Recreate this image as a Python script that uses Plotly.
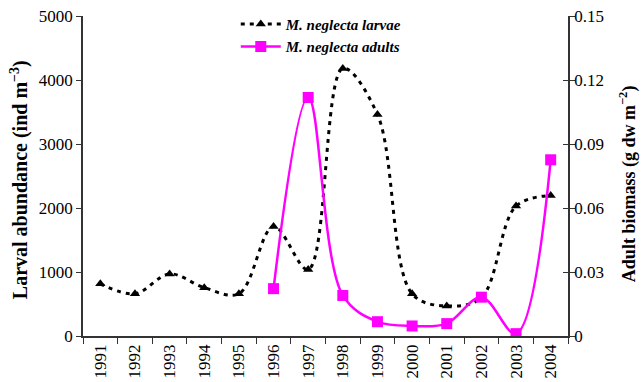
import plotly.graph_objects as go

years = ["1991", "1992", "1993", "1994", "1995", "1996", "1997",
         "1998", "1999", "2000", "2001", "2002", "2003", "2004"]
larvae = [815, 660, 970, 755, 660, 1710, 1040, 4180, 3460, 660, 470, 600, 2030, 2195]
adult_years = ["1996", "1997", "1998", "1999", "2000", "2001", "2002", "2003", "2004"]
adults = [0.0222, 0.1118, 0.0190, 0.0067, 0.0047, 0.0058, 0.0182, 0.0011, 0.0826]

FONT = "Liberation Serif, Times New Roman, serif"
AX = "#333333"

fig = go.Figure()
fig.add_trace(go.Scatter(
    x=years, y=larvae, name="M. neglecta larvae", mode="lines+markers",
    line=dict(color="black", width=3, dash="4px,5px", shape="spline", smoothing=1.0),
    marker=dict(symbol="triangle-up", size=9, color="black"),
    yaxis="y"))
fig.add_trace(go.Scatter(
    x=adult_years, y=adults, name="M. neglecta adults", mode="lines+markers",
    line=dict(color="#FF00FF", width=2.5, shape="spline", smoothing=1.0),
    marker=dict(symbol="square", size=11, color="#FF00FF"),
    yaxis="y2"))
# helper trace to activate yaxis3 (inside tick marks on right axis)
fig.add_trace(go.Scatter(x=[years[0]], y=[None], yaxis="y3", showlegend=False,
                         hoverinfo="skip"))

fig.update_layout(
    width=641, height=382, autosize=False,
    margin=dict(l=83, r=73, t=16, b=46, autoexpand=False),
    paper_bgcolor="white", plot_bgcolor="white",
    font=dict(family=FONT, color="black", size=15),
    showlegend=True,
    legend=dict(x=0.315, y=1.026, xanchor="left", yanchor="top",
                font=dict(family=FONT, size=15, style="italic", weight="bold"),
                bgcolor="rgba(0,0,0,0)", tracegroupgap=0, itemwidth=40),
    xaxis=dict(type="category", categoryorder="array", categoryarray=years,
               tickson="boundaries", ticks="outside", ticklen=6, tickcolor=AX,
               tickangle=-90, tickfont=dict(family=FONT, size=17), showline=True,
               linecolor=AX, linewidth=1.5, showgrid=False, zeroline=False,
               range=[-0.5, 13.5], automargin=False),
    yaxis=dict(range=[0, 5000], tickvals=[0, 1000, 2000, 3000, 4000, 5000],
               ticks="outside", ticklen=5, tickcolor=AX,
               tickfont=dict(family=FONT, size=17),
               showline=True, linecolor=AX, linewidth=1.5, showgrid=False,
               zeroline=False, automargin=False),
    yaxis2=dict(range=[0, 0.15], tickvals=[0, 0.03, 0.06, 0.09, 0.12, 0.15],
                ticktext=["0", "0.03", "0.06", "0.09", "0.12", "0.15"],
                overlaying="y", side="right", anchor="x",
                ticks="outside", ticklen=5, tickcolor=AX,
                tickfont=dict(family=FONT, size=17), ticklabelstandoff=-4,
                showline=True, linecolor=AX, linewidth=1.5, showgrid=False,
                zeroline=False, automargin=False),
    yaxis3=dict(range=[0, 0.15], tickvals=[0, 0.03, 0.06, 0.09, 0.12, 0.15],
                overlaying="y", side="right", anchor="x",
                ticks="inside", ticklen=5, tickcolor=AX, showticklabels=False,
                showline=False, showgrid=False, zeroline=False, automargin=False),
    annotations=[
        dict(text="<b>Larval abundance (ind m<sup>−3</sup>)</b>", textangle=-90,
             xref="paper", yref="paper", x=-0.132, y=0.49, xanchor="center",
             yanchor="middle", showarrow=False, font=dict(family=FONT, size=20)),
        dict(text="<b>Adult biomass (g dw m<sup>−2</sup>)</b>", textangle=-90,
             xref="paper", yref="paper", x=1.124, y=0.475, xanchor="center",
             yanchor="middle", showarrow=False, font=dict(family=FONT, size=18)),
    ],
)

fig.write_html("out.html", config={"displayModeBar": False},
               post_script="document.body.style.margin='0';document.body.style.overflow='hidden';")
